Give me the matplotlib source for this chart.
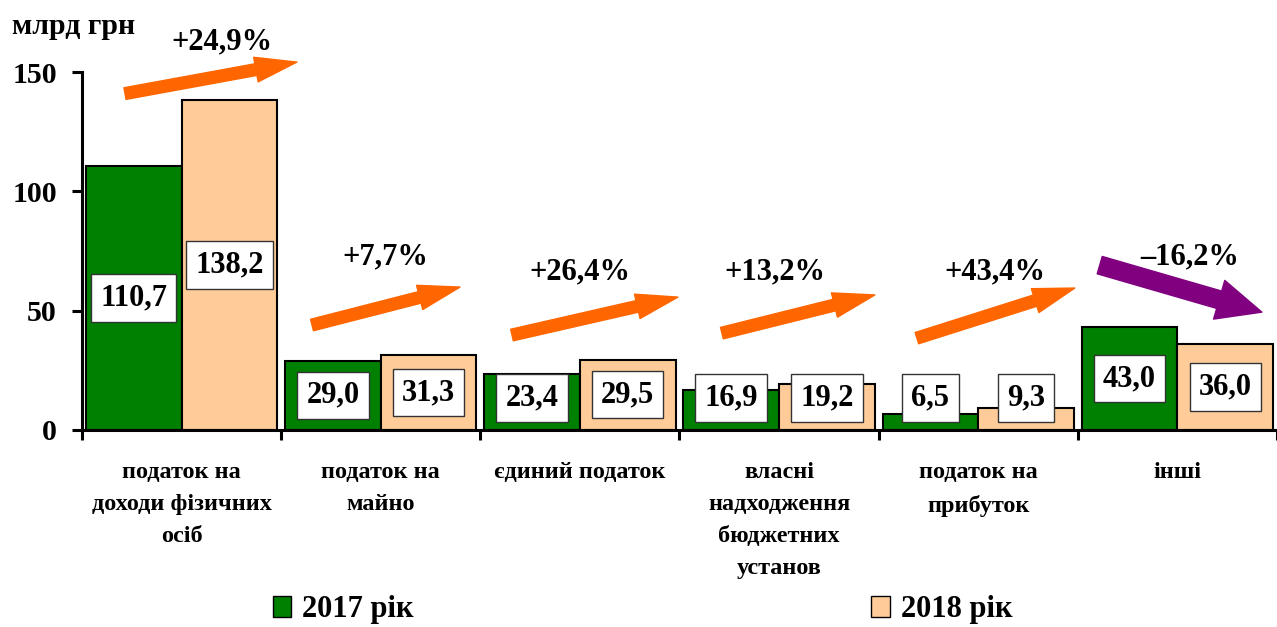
import numpy as np
import matplotlib
matplotlib.use('Agg')
import matplotlib.pyplot as plt
from matplotlib.patches import Patch

plt.rcParams['font.family'] = ['Liberation Serif', 'DejaVu Serif']
plt.rcParams['font.weight'] = 'bold'

# Дані
categories = ['податок на\nдоходи фізичних\nосіб', 'податок на\nмайно', 'єдиний податок',
              'власні\nнадходження\nбюджетних\nустанов', 'податок на\nприбуток', 'інші']
values_2017 = [110.7, 29.0, 23.4, 16.9, 6.5, 43.0]
values_2018 = [138.2, 31.3, 29.5, 19.2, 9.3, 36.0]
changes = ['+24,9%', '+7,7%', '+26,4%', '+13,2%', '+43,4%', '–16,2%']
series_names = ['2017 рік', '2018 рік']

# стрілки: (початок x, y), (кінець x, y), позиція підпису
arrow_start = [(0.216, 141.0), (1.155, 44.0), (2.159, 39.8), (3.213, 40.6), (4.192, 38.5), (5.110, 69.1)]
arrow_end = [(1.079, 154.2), (1.898, 59.9), (2.992, 55.7), (3.981, 56.6), (4.985, 59.5), (5.924, 49.4)]
text_pos = [(0.703, 162.5), (1.521, 72.5), (2.5, 66.2), (3.479, 66.2), (4.583, 66.2), (5.562, 72.5)]

green = '#008000'
peach = '#FFCC99'

fig = plt.figure(figsize=(12.77, 6.27), dpi=100)
ax = fig.add_axes([0.0642, 0.3142, 0.9358, 0.5708])

x = np.arange(len(categories))
w = 0.48
ax.bar(x + 0.26, values_2017, w, color=green, edgecolor='black', linewidth=1.5)
ax.bar(x + 0.74, values_2018, w, color=peach, edgecolor='black', linewidth=1.5)

box = dict(boxstyle='square,pad=0.3', facecolor='white', edgecolor='#333333', linewidth=1)
for i in range(len(categories)):
    for off, v in ((0.26, values_2017[i]), (0.74, values_2018[i])):
        ax.text(i + off, max(v / 2, 13.4), f'{v:.1f}'.replace('.', ','), ha='center', va='center',
                fontsize=22, fontweight='bold', bbox=box, zorder=5)

for i in range(len(categories)):
    col = '#800080' if changes[i].startswith('–') else '#FF6600'
    style = ('simple,head_length=3.2,head_width=2.9,tail_width=1.3' if col == '#800080'
             else 'simple,head_length=3.0,head_width=1.8,tail_width=0.85')
    ax.annotate('', xy=arrow_end[i], xytext=arrow_start[i],
                arrowprops=dict(arrowstyle=style, color=col, shrinkA=0, shrinkB=0,
                                mutation_scale=10),
                annotation_clip=False)
    ax.text(text_pos[i][0], text_pos[i][1], changes[i], ha='center', va='center',
            fontsize=22, fontweight='bold', clip_on=False)

ax.set_xlim(0, 6)
ax.set_ylim(0, 150)
ax.set_yticks([0, 50, 100, 150])
ax.tick_params(axis='y', labelsize=21.5, width=2.2, length=7, pad=11)
ax.set_xticks(np.arange(7))
ax.set_xticklabels([])
ax.tick_params(axis='x', which='major', width=2.2, length=7)
ax.set_xticks(x + 0.5, minor=True)
ax.set_xticklabels(categories, minor=True, fontsize=17.5, fontweight='bold', linespacing=1.68, va='top')
ax.tick_params(axis='x', which='minor', length=0, pad=23)
for lab in ax.get_yticklabels():
    lab.set_fontweight('bold')
for s in ('top', 'right'):
    ax.spines[s].set_visible(False)
for s in ('left', 'bottom'):
    ax.spines[s].set_linewidth(2.2)

fig.text(0.0094, 0.957, 'млрд грн', fontsize=21.5, fontweight='bold', va='center', ha='left')

handles = [Patch(facecolor=green, edgecolor='black'), Patch(facecolor=peach, edgecolor='black')]
fig.legend(handles, series_names, loc='center', bbox_to_anchor=(0.503, 0.028), ncol=2, frameon=False,
           prop={'size': 22, 'weight': 'bold'}, handlelength=0.6, handleheight=0.7,
           handletextpad=0.35, columnspacing=15.0)

fig.savefig('out.png', dpi=100)
